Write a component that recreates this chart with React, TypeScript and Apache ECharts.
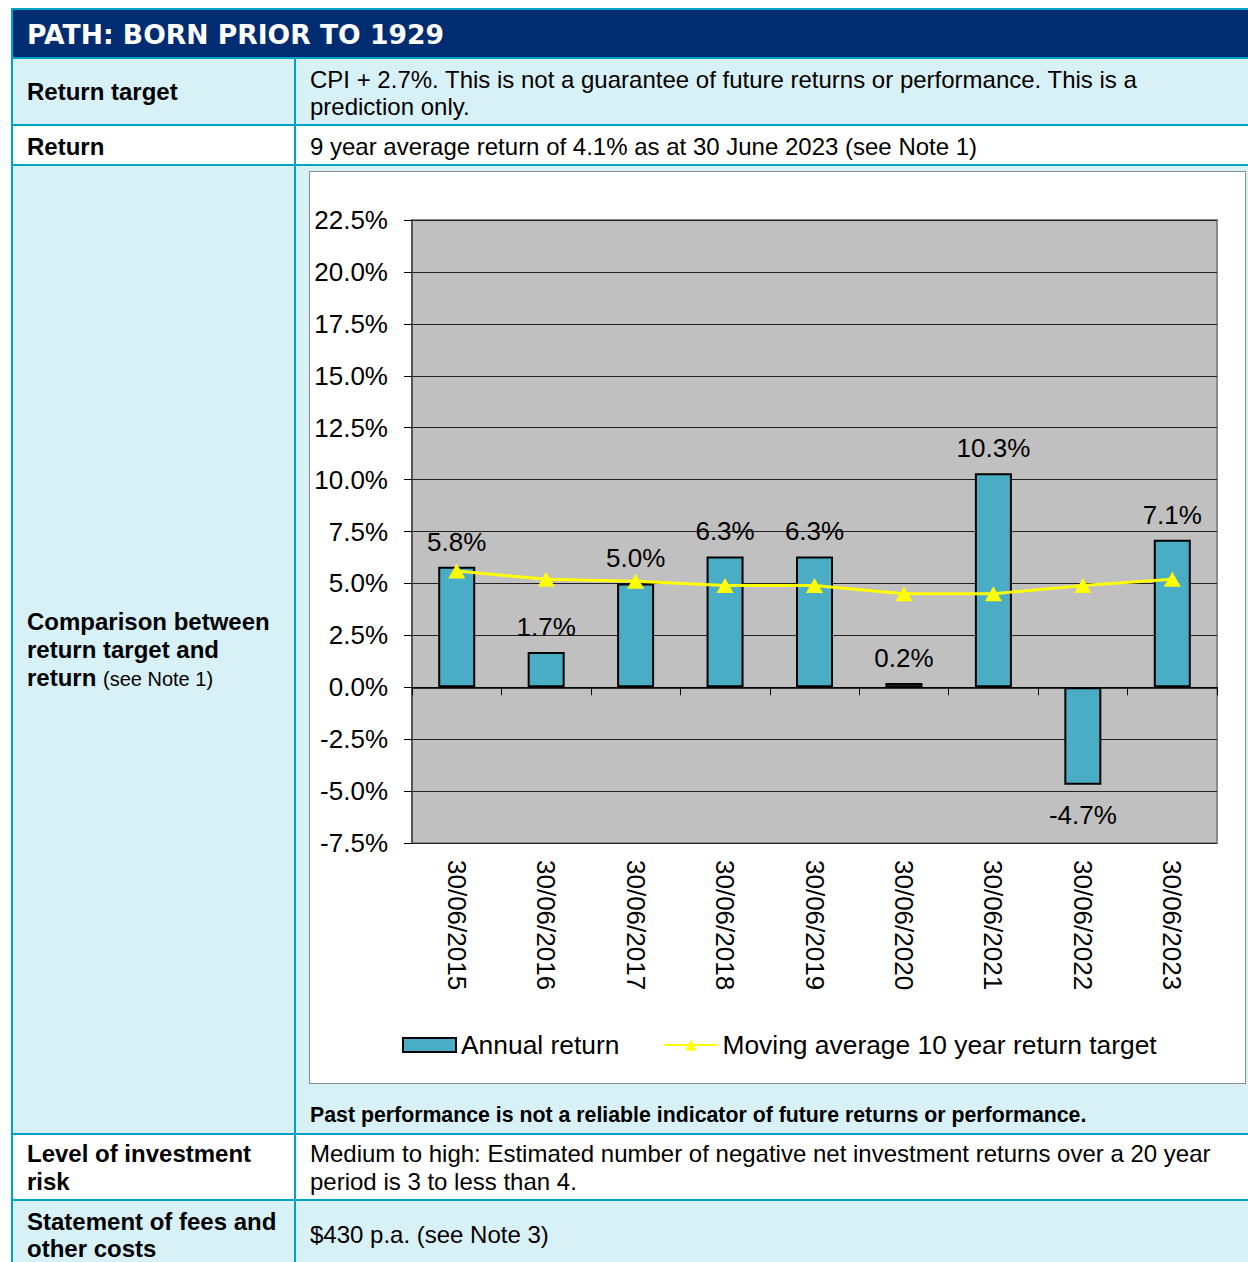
import React, { useEffect, useRef } from 'react';
import * as echarts from 'echarts';

const categories = [
  '30/06/2015', '30/06/2016', '30/06/2017', '30/06/2018', '30/06/2019',
  '30/06/2020', '30/06/2021', '30/06/2022', '30/06/2023',
];
const annualReturn = [5.8, 1.7, 5.0, 6.3, 6.3, 0.2, 10.3, -4.7, 7.1];
const movingAvgTarget = [5.6, 5.2, 5.1, 4.9, 4.9, 4.5, 4.5, 4.9, 5.2];
const yMin = -7.5;
const yMax = 22.5;
const yInterval = 2.5;
const seriesNames = ['Annual return', 'Moving average 10 year return target'];

const FONT = "'Liberation Sans', Arial, sans-serif";
const NAVY = '#002D72';
const CYAN = '#00A3C8';
const LIGHT = '#D8F1F7';

function Chart() {
  const ref = useRef<HTMLDivElement>(null);
  useEffect(() => {
    if (!ref.current) return;
    const chart = echarts.init(ref.current, null, { renderer: 'svg' });
    chart.setOption({
      animation: false,
      backgroundColor: '#ffffff',
      textStyle: { fontFamily: FONT, color: '#000' },
      grid: {
        left: 102, top: 48, width: 805, height: 623,
        show: true, backgroundColor: '#C0C0C0', borderColor: '#8a8a8a', borderWidth: 2,
      },
      legend: {
        left: 87, top: 855, itemWidth: 53, itemHeight: 14, itemGap: 44,
        textStyle: { fontSize: 26.4, color: '#000', fontFamily: FONT },
        data: [
          { name: seriesNames[0], icon: 'rect' },
          { name: seriesNames[1] },
        ],
      },
      xAxis: [
        {
          type: 'category', data: categories, position: 'top',
          axisLine: { onZero: true, lineStyle: { color: '#000', width: 1.5 } },
          axisTick: { show: true, inside: true, length: 8, lineStyle: { color: '#000', width: 1 } },
          axisLabel: { show: false }, splitLine: { show: false },
        },
        {
          type: 'category', data: categories, position: 'bottom',
          axisLine: { show: false, onZero: false },
          axisTick: { show: false },
          axisLabel: { rotate: -90, fontSize: 26, color: '#000', margin: 17, fontFamily: FONT },
          splitLine: { show: false },
        },
      ],
      yAxis: {
        type: 'value', min: yMin, max: yMax, interval: yInterval,
        axisLine: { show: true, lineStyle: { color: '#555', width: 2 } },
        axisTick: { show: true, length: 8, lineStyle: { color: '#000', width: 1 } },
        axisLabel: {
          fontSize: 26, color: '#000', margin: 24, fontFamily: FONT,
          formatter: (v: number) => v.toFixed(1) + '%',
        },
        splitLine: { show: true, lineStyle: { color: '#222', width: 1 } },
      },
      series: [
        {
          name: seriesNames[0], type: 'bar', xAxisIndex: 0, barWidth: 37,
          data: annualReturn.map((v) => ({
            value: v,
            label: v < 0 ? { position: 'bottom', distance: 17 } : { position: 'top', distance: 12 },
          })),
          itemStyle: { color: '#4BACC6', borderColor: '#000', borderWidth: 2 },
          label: {
            show: true, fontSize: 26, color: '#000', fontFamily: FONT,
            formatter: (p: any) => Number(p.value).toFixed(1) + '%',
          },
          z: 2,
        },
        {
          name: seriesNames[1], type: 'line', xAxisIndex: 0,
          data: movingAvgTarget,
          symbol: 'triangle', symbolSize: [17, 15],
          lineStyle: { color: '#FFFF00', width: 3 },
          itemStyle: { color: '#FFFF00' },
          z: 3,
        },
      ],
    });
    return () => chart.dispose();
  }, []);
  return (
    <div
      ref={ref}
      style={{ position: 'absolute', left: 310, top: 172, width: 935, height: 911 }}
    />
  );
}

const abs = (l: number, t: number, w: number, h: number, bg: string): React.CSSProperties => ({
  position: 'absolute', left: l, top: t, width: w, height: h, background: bg,
});

function TextBlock(props: {
  x: number; y: number; lines: React.ReactNode[]; size?: number; lh?: number; bold?: boolean;
}) {
  const { x, y, lines, size = 24, lh = 27, bold = false } = props;
  return (
    <div
      style={{
        position: 'absolute', left: x, top: y, fontFamily: FONT, fontSize: size,
        lineHeight: lh + 'px', fontWeight: bold ? 700 : 400, color: '#000', whiteSpace: 'nowrap',
      }}
    >
      {lines.map((l, i) => (
        <div key={i}>{l}</div>
      ))}
    </div>
  );
}

export default function App() {
  return (
    <div style={{ position: 'absolute', left: 0, top: 0, width: 1248, height: 1262, overflow: 'hidden', background: '#fff' }}>
      {/* row backgrounds */}
      <div style={abs(13, 10, 1260, 47, NAVY)} />
      <div style={abs(13, 59, 1260, 65, LIGHT)} />
      <div style={abs(13, 126, 1260, 38, '#fff')} />
      <div style={abs(13, 166, 1260, 967, LIGHT)} />
      <div style={abs(13, 1135, 1260, 64, '#fff')} />
      <div style={abs(13, 1201, 1260, 80, LIGHT)} />
      {/* borders */}
      <div style={abs(11, 8, 1260, 2, CYAN)} />
      <div style={abs(11, 8, 2, 1270, CYAN)} />
      <div style={abs(11, 57, 1260, 2, CYAN)} />
      <div style={abs(11, 124, 1260, 2, CYAN)} />
      <div style={abs(11, 164, 1260, 2, CYAN)} />
      <div style={abs(11, 1133, 1260, 2, CYAN)} />
      <div style={abs(11, 1199, 1260, 2, CYAN)} />
      <div style={abs(294, 59, 2, 1220, CYAN)} />
      {/* header */}
      <div
        style={{
          position: 'absolute', left: 27, top: 12, height: 47, display: 'flex', alignItems: 'center',
          fontFamily: "'DejaVu Sans', Verdana, sans-serif", fontWeight: 700, fontSize: 26.6,
          color: '#fff', whiteSpace: 'nowrap', lineHeight: 1,
        }}
      >
        PATH: BORN PRIOR TO 1929
      </div>
      {/* row texts */}
      <TextBlock x={27} y={78} bold lines={['Return target']} />
      <TextBlock
        x={310} y={66}
        lines={[
          'CPI + 2.7%. This is not a guarantee of future returns or performance. This is a',
          'prediction only.',
        ]}
      />
      <TextBlock x={27} y={133} bold lines={['Return']} />
      <TextBlock x={310} y={133} lines={['9 year average return of 4.1% as at 30 June 2023 (see Note 1)']} />
      <TextBlock
        x={27} y={608} lh={28} bold
        lines={[
          'Comparison between',
          'return target and',
          <span key="r">return <span style={{ fontWeight: 400, fontSize: 20 }}>(see Note 1)</span></span>,
        ]}
      />
      {/* chart box */}
      <div style={{ position: 'absolute', left: 309, top: 171, width: 935, height: 911, border: '1px solid #8c8c8c', background: '#fff' }} />
      <Chart />
      <TextBlock x={310} y={1102} size={21.3} lh={27} bold lines={['Past performance is not a reliable indicator of future returns or performance.']} />
      <TextBlock x={27} y={1140} lh={28} bold lines={['Level of investment', 'risk']} />
      <TextBlock
        x={310} y={1140} lh={28}
        lines={[
          'Medium to high: Estimated number of negative net investment returns over a 20 year',
          'period is 3 to less than 4.',
        ]}
      />
      <TextBlock x={27} y={1208} lh={27} bold lines={['Statement of fees and', 'other costs']} />
      <TextBlock x={310} y={1221} lines={['$430 p.a. (see Note 3)']} />
    </div>
  );
}
